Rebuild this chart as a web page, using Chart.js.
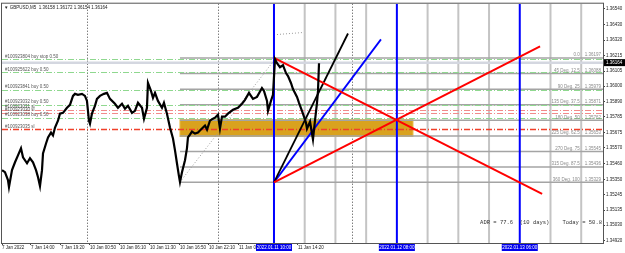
<!DOCTYPE html>
<html>
<head>
<meta charset="utf-8">
<script src="https://cdn.jsdelivr.net/npm/chart.js@4.4.0/dist/chart.umd.min.js"></script>
<style>
body { margin: 0; background: #fff; }
</style>
</head>
<body>
<canvas id="chart" width="625" height="253"></canvas>
<script>
// x = trading hours since 11 Jan 00:00 (weekend squeezed out, like the terminal does)
var priceHours = [-38.69, -38.16, -37.62, -37.44, -36.90, -36.36, -35.83, -35.29, -34.93, -34.21, -33.68, -33.14, -32.60, -32.24, -31.89, -31.53, -31.35, -30.81, -30.45, -29.92, -29.56, -29.20, -28.67, -28.31, -27.77, -27.06, -26.52, -25.98, -25.63, -25.09, -24.37, -23.84, -23.48, -23.12, -22.94, -22.59, -22.05, -21.69, -21.15, -20.44, -19.90, -19.36, -18.47, -17.93, -17.21, -16.67, -16.14, -15.42, -14.89, -14.35, -13.63, -13.27, -12.74, -12.56, -12.02, -11.66, -11.30, -10.77, -10.05, -9.70, -9.16, -8.62, -8.08, -7.72, -7.37, -7.01, -6.83, -6.47, -5.93, -5.58, -5.40, -5.04, -4.68, -4.14, -3.61, -3.25, -2.71, -2.35, -1.99, -1.46, -0.92, -0.56, -0.03, 0.33, 0.69, 1.22, 1.76, 2.66, 3.55, 4.27, 4.81, 5.52, 6.24, 6.96, 7.85, 8.21, 8.75, 8.93, 9.46, 9.82, 10.18, 10.54, 11.07, 11.61, 12.15, 12.51, 13.04, 13.40, 14.12, 14.48, 15.01, 15.37, 15.73, 15.91, 16.45, 16.98, 17.34, 17.70, 17.88, 18.06];
var priceValues = [1.35414, 1.35400, 1.35345, 1.35296, 1.35414, 1.35469, 1.35517, 1.35566, 1.35504, 1.35462, 1.35497, 1.35469, 1.35414, 1.35365, 1.35303, 1.35414, 1.35531, 1.35600, 1.35642, 1.35676, 1.35656, 1.35711, 1.35759, 1.35808, 1.35814, 1.35849, 1.35870, 1.35932, 1.35946, 1.35939, 1.35946, 1.35932, 1.35897, 1.35759, 1.35738, 1.35808, 1.35863, 1.35911, 1.35932, 1.35946, 1.35953, 1.35911, 1.35877, 1.35849, 1.35877, 1.35842, 1.35863, 1.35814, 1.35828, 1.35884, 1.35849, 1.35773, 1.35849, 1.36022, 1.35967, 1.35918, 1.35953, 1.35897, 1.35849, 1.35884, 1.35808, 1.35711, 1.35635, 1.35552, 1.35462, 1.35372, 1.35331, 1.35400, 1.35483, 1.35566, 1.35642, 1.35662, 1.35683, 1.35669, 1.35676, 1.35690, 1.35711, 1.35725, 1.35697, 1.35759, 1.35773, 1.35780, 1.35801, 1.35704, 1.35787, 1.35787, 1.35808, 1.35835, 1.35849, 1.35877, 1.35904, 1.35953, 1.35911, 1.35925, 1.35987, 1.35967, 1.35897, 1.35828, 1.35897, 1.35939, 1.36188, 1.36160, 1.36132, 1.36146, 1.36091, 1.36070, 1.36022, 1.35980, 1.35925, 1.35884, 1.35828, 1.35787, 1.35745, 1.35704, 1.35752, 1.35628, 1.35759, 1.35884, 1.35967, 1.36160];

var yTicks = [1.36540, 1.36430, 1.36320, 1.36215, 1.36105, 1.36000, 1.35890, 1.35785, 1.35675, 1.35570, 1.35460, 1.35350, 1.35245, 1.35135, 1.35030, 1.34920];
var xTickHours = [-38.69, -33.50, -28.13, -22.94, -17.57, -12.20, -6.83, -1.64, 3.73, 14.29];
var xTickLabels = ['7 Jan 2022', '7 Jan 14:00', '7 Jan 19:20', '10 Jan 00:50', '10 Jan 06:10', '10 Jan 11:30', '10 Jan 16:50', '10 Jan 22:10', '11 Jan 03:30', '11 Jan 14:20'];

var levelNames = ['0.0', '45 Deg. 12.5', '90 Deg. 25', '135 Deg. 37.5', '180 Deg. 50', '225 Deg. 62.5', '270 Deg. 75', '315 Deg. 87.5', '360 Deg. 100'];
var levelPrices = [1.36197, 1.36088, 1.35979, 1.35871, 1.35762, 1.35653, 1.35545, 1.35436, 1.35329];
var levelStart = -6.83;

var orderLabels = ['#100923804 buy stop 0.50', '#100925622 buy 0.50', '#100923841 buy 0.50', '#100923032 buy 0.50', '#100923031 sl', '#100923030 sl', '#100923038 buy 0.50', '#100923035 sl'];
var orderPrices = [1.36188, 1.36098, 1.35973, 1.35870, 1.35835, 1.35814, 1.35780, 1.35700];
var orderKinds = ['buy', 'buy', 'buy', 'buy', 'sl', 'sl', 'buy', 'sl2'];

var bidPrice = 1.36164;
var daySepHours = [-23.48, 0, 23.96];
var grayTimeHours = [15.5, 21, 26.5, 37.5, 43, 48.5, 59.5, 65];
var blueTimeHours = [10, 32, 54];
var blueTimeLabels = ['2022.01.11 10:00', '2022.01.12 08:00', '2022.01.13 06:00'];
var boxHours = [-6.83, 34.88];
var boxPrices = [1.35766, 1.35649];

var redDownHours = [10, 58.0], redDownPrices = [1.36197, 1.35248];
var redUpHours = [10, 57.63], redUpPrices = [1.35329, 1.36277];
var blackFanHours = [10, 23.25], blackFanPrices = [1.35329, 1.36367];
var blueFanHours = [10, 29.15], blueFanPrices = [1.35329, 1.36326];
var trendHours = [-6.83, 10.18], trendPrices = [1.35331, 1.36188];
var extHours = [10.54, 15.2], extPrices = [1.36360, 1.36374];

var titleText = '\u25BC GBPUSD,M5  1.36158 1.36172 1.36154 1.36164';
var adrText = 'ADR = 77.6  (10 days)';
var todayText = 'Today = 50.8';

function pts(xs, ys) {
	var out = [];
	for (var i = 0; i < xs.length; i++) out.push({ x: xs[i], y: ys[i] });
	return out;
}

function seg(xs, ys, color, width) {
	return { data: pts(xs, ys), showLine: true, borderColor: color, borderWidth: width, pointRadius: 0, fill: false };
}

var FONT = '"Liberation Sans", Arial, sans-serif';

function hline(ctx, x1, x2, yy, color, w, dash) {
	ctx.beginPath();
	ctx.setLineDash(dash || []);
	ctx.strokeStyle = color;
	ctx.lineWidth = w;
	ctx.moveTo(x1, yy);
	ctx.lineTo(x2, yy);
	ctx.stroke();
}

function vline(ctx, xx, y1, y2, color, w, dash) {
	ctx.beginPath();
	ctx.setLineDash(dash || []);
	ctx.strokeStyle = color;
	ctx.lineWidth = w;
	ctx.moveTo(xx, y1);
	ctx.lineTo(xx, y2);
	ctx.stroke();
}

var decor = {
	id: 'decor',
	beforeDatasetsDraw: function (chart) {
		var ctx = chart.ctx, a = chart.chartArea, sx = chart.scales.x, sy = chart.scales.y;
		ctx.save();
		ctx.beginPath();
		ctx.rect(a.left, a.top, a.width, a.height);
		ctx.clip();

		daySepHours.forEach(function (h) {
			vline(ctx, Math.round(sx.getPixelForValue(h)) + 0.5, a.top, a.bottom, '#444', 1, [1, 2]);
		});
		grayTimeHours.forEach(function (h) {
			vline(ctx, sx.getPixelForValue(h), a.top, a.bottom, '#c4c4c4', 2);
		});

		// rectangle
		var bx1 = sx.getPixelForValue(boxHours[0]), bx2 = sx.getPixelForValue(boxHours[1]);
		var by1 = sy.getPixelForValue(boxPrices[0]), by2 = sy.getPixelForValue(boxPrices[1]);
		ctx.fillStyle = '#d9a21e';
		ctx.fillRect(bx1, by1, bx2 - bx1, by2 - by1);
		ctx.setLineDash([]);
		ctx.strokeStyle = '#e8bb44';
		ctx.lineWidth = 1;
		ctx.strokeRect(bx1, by1, bx2 - bx1, by2 - by1);

		// gann levels
		var lx = sx.getPixelForValue(levelStart);
		levelPrices.forEach(function (p) {
			hline(ctx, lx, a.right, sy.getPixelForValue(p), '#a4a4a4', 1.5);
		});

		hline(ctx, a.left, a.right, sy.getPixelForValue(bidPrice), '#d4d7e0', 2.5);

		orderPrices.forEach(function (p, i) {
			var k = orderKinds[i];
			var c = k === 'buy' ? '#8fd88f' : (k === 'sl' ? '#f28a8a' : '#f0402a');
			var w = k === 'sl2' ? 1.6 : 1;
			hline(ctx, a.left, a.right, Math.round(sy.getPixelForValue(p)) + 0.5, c, w, [6, 2, 1, 2]);
		});

		// dotted trend lines
		ctx.setLineDash([1, 2]);
		ctx.strokeStyle = '#9a9a9a';
		ctx.lineWidth = 1;
		[[trendHours, trendPrices], [extHours, extPrices]].forEach(function (t) {
			ctx.beginPath();
			ctx.moveTo(sx.getPixelForValue(t[0][0]), sy.getPixelForValue(t[1][0]));
			ctx.lineTo(sx.getPixelForValue(t[0][1]), sy.getPixelForValue(t[1][1]));
			ctx.stroke();
		});

		blueTimeHours.forEach(function (h) {
			vline(ctx, sx.getPixelForValue(h), a.top, a.bottom, '#0000ff', 2);
		});
		ctx.restore();
	},
	afterDraw: function (chart) {
		var ctx = chart.ctx, a = chart.chartArea, sx = chart.scales.x, sy = chart.scales.y;
		ctx.save();
		ctx.setLineDash([]);
		ctx.strokeStyle = '#555';
		ctx.lineWidth = 1;
		ctx.strokeRect(a.left - 0.5, a.top - 0.5, a.width + 1, a.height + 1);

		ctx.font = '4.5px ' + FONT;
		ctx.textBaseline = 'bottom';
		ctx.textAlign = 'left';
		ctx.fillStyle = '#555';
		orderPrices.forEach(function (p, i) {
			ctx.fillText(orderLabels[i], a.left + 3, sy.getPixelForValue(p) - 0.5);
		});

		ctx.textAlign = 'right';
		ctx.fillStyle = '#8a8a8a';
		levelPrices.forEach(function (p, i) {
			ctx.fillText(levelNames[i] + '    ' + p.toFixed(5), a.right - 2, sy.getPixelForValue(p) - 0.5);
		});

		ctx.textAlign = 'left';
		ctx.textBaseline = 'middle';
		ctx.fillStyle = '#222';
		ctx.fillText(titleText, a.left + 2, a.top + 4);

		ctx.font = '5.5px "Liberation Mono", monospace';
		ctx.fillStyle = '#333';
		var ay = sy.getPixelForValue(1.35050);
		ctx.fillText(adrText, sx.getPixelForValue(46.9), ay);
		ctx.textAlign = 'right';
		ctx.fillText(todayText, a.right - 1, ay);

		// current price box
		var py = sy.getPixelForValue(bidPrice);
		ctx.fillStyle = '#000';
		ctx.fillRect(a.right + 1, py - 3.5, 625 - a.right - 1, 7);
		ctx.fillStyle = '#fff';
		ctx.textAlign = 'left';
		ctx.font = '4.5px ' + FONT;
		ctx.fillText(bidPrice.toFixed(5), a.right + 3, py);

		// blue time labels
		blueTimeHours.forEach(function (h, i) {
			var cx = sx.getPixelForValue(h);
			ctx.fillStyle = '#0000ee';
			ctx.fillRect(cx - 18, a.bottom + 1, 36, 7);
			ctx.fillStyle = '#fff';
			ctx.textAlign = 'center';
			ctx.fillText(blueTimeLabels[i], cx, a.bottom + 4.5);
		});
		ctx.restore();
	}
};

new Chart(document.getElementById('chart').getContext('2d'), {
	type: 'scatter',
	data: {
		datasets: [
			{ data: pts(priceHours, priceValues), showLine: true, borderColor: '#000', borderWidth: 2.2, pointRadius: 0, tension: 0, fill: false },
			seg(redDownHours, redDownPrices, '#ff0000', 2),
			seg(redUpHours, redUpPrices, '#ff0000', 2),
			seg(blackFanHours, blackFanPrices, '#000', 1.8),
			seg(blueFanHours, blueFanPrices, '#0000ff', 1.8)
		]
	},
	options: {
		responsive: false,
		animation: false,
		layout: { padding: { left: 2, top: 2, right: 0, bottom: 0 } },
		plugins: { legend: { display: false }, tooltip: { enabled: false } },
		scales: {
			x: {
				type: 'linear',
				min: -38.69,
				max: 68.9,
				afterBuildTicks: function (axis) {
					axis.ticks = xTickHours.map(function (v) { return { value: v }; });
				},
				afterFit: function (axis) { axis.height = 10; },
				grid: { drawOnChartArea: false, tickLength: 2, color: '#444' },
				border: { color: '#444' },
				ticks: {
					autoSkip: false,
					maxRotation: 0,
					align: 'start',
					padding: 0,
					color: '#222',
					font: { size: 4.5, family: FONT },
					callback: function (v, i) { return xTickLabels[i]; }
				}
			},
			y: {
				type: 'linear',
				position: 'right',
				min: 1.34906,
				max: 1.36575,
				afterBuildTicks: function (axis) {
					axis.ticks = yTicks.map(function (v) { return { value: v }; });
				},
				afterFit: function (axis) { axis.width = 22; },
				grid: { drawOnChartArea: false, tickLength: 2, color: '#444' },
				border: { color: '#444' },
				ticks: {
					autoSkip: false,
					padding: 1,
					color: '#222',
					font: { size: 4.5, family: FONT },
					callback: function (v) { return v.toFixed(5); }
				}
			}
		}
	},
	plugins: [decor]
});
</script>
</body>
</html>
